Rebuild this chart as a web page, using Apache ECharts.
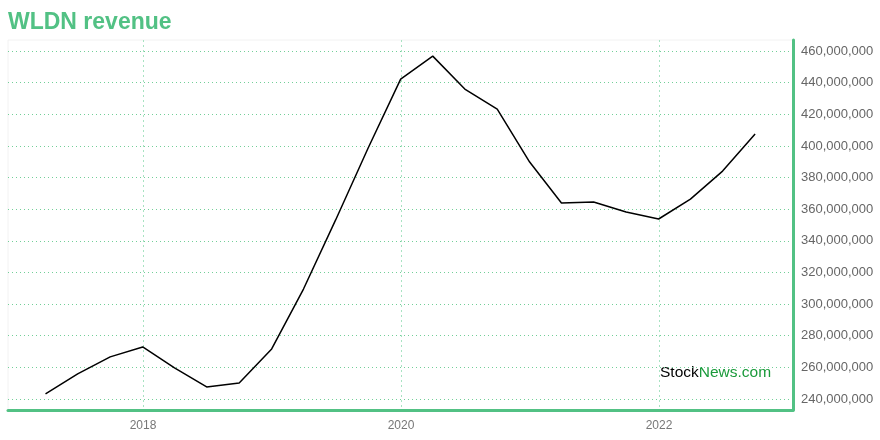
<!DOCTYPE html>
<html><head><meta charset="utf-8">
<script src="https://cdn.jsdelivr.net/npm/echarts@6/dist/echarts.min.js"></script>
<style>html,body{margin:0;padding:0;background:#fff}#c{width:880px;height:440px}</style>
</head><body><div id="c"></div>
<script>
const quarterEnds = ["2017-03-31","2017-06-30","2017-09-30","2017-12-31","2018-03-31","2018-06-30","2018-09-30","2018-12-31","2019-03-31","2019-06-30","2019-09-30","2019-12-31","2020-03-31","2020-06-30","2020-09-30","2020-12-31","2021-03-31","2021-06-30","2021-09-30","2021-12-31","2022-03-31","2022-06-30","2022-09-30"];
const revenue = [243.2,255.8,266.6,272.9,259.6,247.6,250.1,271.6,309.5,353.2,398.7,442.3,456.8,436.0,423.3,389.8,363.9,364.5,358.2,353.8,366.4,384.1,407.5].map(v=>v*1e6);
const yearTicks = [2018,2020,2022];

function decYear(s){const d=new Date(s+"T00:00:00Z");const y=d.getUTCFullYear();const a=Date.UTC(y,0,1),b=Date.UTC(y+1,0,1);return y+(d-a)/(b-a);}
const data = quarterEnds.map((q,i)=>[decYear(q),revenue[i]]);
const green = '#52c184';
const chart = echarts.init(document.getElementById('c'));
chart.setOption({
  animation:false,
  title:{text:'WLDN revenue',left:8,top:11,padding:0,textStyle:{color:green,fontSize:23,fontWeight:'bold',fontFamily:'Liberation Sans, Arial'}},
  grid:{left:8,right:87,top:40,bottom:30,show:true,borderColor:'#f2f2f2',borderWidth:1},
  xAxis:{type:'value',min:2016.953,max:2023.039,splitNumber:3,
    axisLine:{show:true,onZero:false,lineStyle:{color:green,width:3}},
    axisTick:{show:false},
    axisLabel:{color:'#777',fontSize:12,fontFamily:'Liberation Sans, Arial',margin:10,showMinLabel:false,showMaxLabel:false,
      formatter:v=>yearTicks.includes(Math.round(v))&&Math.abs(v-Math.round(v))<1e-6?String(Math.round(v)):''},
    splitLine:{show:true,showMinLine:false,showMaxLine:false,lineStyle:{color:'#a8e3c2',type:[2,3],width:1}}},
  yAxis:{type:'value',position:'right',min:233.0e6,max:467.0e6,splitNumber:11,
    axisLine:{show:true,lineStyle:{color:green,width:3}},
    axisTick:{show:false},
    axisLabel:{color:'#666',fontSize:13,fontFamily:'Liberation Sans, Arial',margin:8,showMinLabel:false,showMaxLabel:false,
      formatter:v=>v.toLocaleString('en-US')},
    splitLine:{show:true,showMinLine:false,showMaxLine:false,lineStyle:{color:'#72cf98',type:[1,3],width:1}}},
  graphic:[{type:'text',left:660,top:365,style:{text:'{a|Stock}{b|News.com}',rich:{a:{fill:'#000',fontSize:15.5,fontFamily:'Liberation Sans, Arial'},b:{fill:'#1a9a3a',fontSize:15.5,fontFamily:'Liberation Sans, Arial'}}}}],
  series:[{type:'line',data:data,showSymbol:false,lineStyle:{color:'#000',width:1.5},itemStyle:{color:'#000'}}]
});
</script></body></html>
